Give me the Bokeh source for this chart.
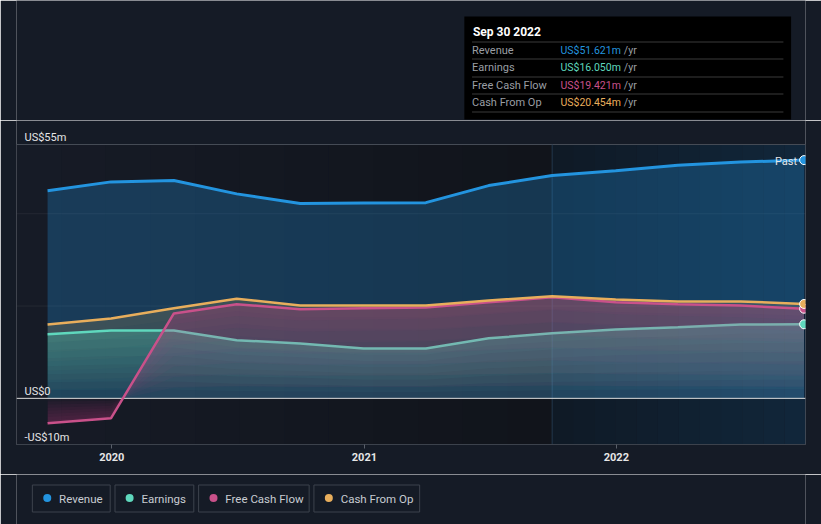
import pandas as pd
import numpy as np
from bokeh.plotting import figure
from bokeh.models import Range1d, FixedTicker, DatetimeTickFormatter
from bokeh.layouts import column
from bokeh.embed import file_html
from bokeh.resources import INLINE
from bokeh.core.properties import value

# ---------------- data ----------------
dates = ["2019-09-30", "2019-12-31", "2020-03-31", "2020-06-30", "2020-09-30",
         "2020-12-31", "2021-03-31", "2021-06-30", "2021-09-30", "2021-12-31",
         "2022-03-31", "2022-06-30", "2022-09-30"]
revenue = [45.0, 46.9, 47.2, 44.3, 42.2, 42.3, 42.4, 46.1, 48.3, 49.3, 50.5, 51.2, 51.621]
earnings = [13.9, 14.7, 14.7, 12.6, 11.9, 10.8, 10.8, 13.0, 14.1, 14.9, 15.4, 16.0, 16.050]
free_cash_flow = [-5.4, -4.3, 18.4, 20.4, 19.3, 19.5, 19.7, 20.8, 21.9, 20.8, 20.4, 20.1, 19.421]
cash_from_op = [16.0, 17.3, 19.5, 21.6, 20.1, 20.1, 20.1, 21.2, 22.1, 21.4, 21.0, 21.0, 20.454]

series_names = ["Revenue", "Earnings", "Free Cash Flow", "Cash From Op"]
series_colors = ["#2394df", "#5fd8bd", "#c9518a", "#e8ae5c"]
year_ticks = ["2020-01-01", "2021-01-01", "2022-01-01"]
y_tick_values = [-10, 0, 55]
y_tick_labels = ["-US$10m", "US$0", "US$55m"]
grid_values = [20, 40]
past_start = "2021-09-30"
tooltip_title = "Sep 30 2022"

# ---------------- style ----------------
BG = "#151b26"
FONT = "Roboto"
TXT = "#e6e6e6"
W = 821

x = pd.to_datetime(dates)
x_start = pd.Timestamp("2019-08-16")
x_end = pd.Timestamp("2022-10-02")
past_ts = pd.Timestamp(past_start)
y_min, y_top_line, y_max = -10, 55, 60.2

series = [revenue, earnings, free_cash_flow, cash_from_op]
REV, EARN, FCF, CFO = range(4)


def styled(fig):
    fig.background_fill_color = BG
    fig.border_fill_color = BG
    fig.outline_line_color = None
    fig.grid.visible = False
    fig.styles = {"overflow": "hidden"}
    return fig


# ---------------- main chart ----------------
p = styled(figure(width=W, height=354, x_axis_type="datetime",
                  x_range=Range1d(x_start, x_end), y_range=Range1d(y_min, y_max),
                  output_backend="svg", toolbar_location=None, y_axis_location=None,
                  min_border_left=16, min_border_right=16, min_border_top=0,
                  min_border_bottom=30))


def hex_mix(c1, c2, t):
    a = [int(c1[i:i + 2], 16) for i in (1, 3, 5)]
    b = [int(c2[i:i + 2], 16) for i in (1, 3, 5)]
    return "#%02x%02x%02x" % tuple(int(round(a[k] + (b[k] - a[k]) * t)) for k in range(3))


# background gradient (left part darkens to the right, past part bluish)
n_steps = 12
edges = pd.date_range(x_start, past_ts, periods=n_steps + 1)
p.quad(left=edges[:-1], right=edges[1:], bottom=y_min, top=y_top_line,
       fill_color=[hex_mix("#161b26", "#11141b", i / (n_steps - 1)) for i in range(n_steps)],
       line_color=None)
edges2 = pd.date_range(past_ts, x_end, periods=n_steps + 1)
p.quad(left=edges2[:-1], right=edges2[1:], bottom=y_min, top=y_top_line,
       fill_color=[hex_mix("#0f1a26", "#11263a", i / (n_steps - 1)) for i in range(n_steps)],
       line_color=None)

# grid lines
n_g = len(grid_values)
p.segment(x0=[x_start] * n_g, y0=grid_values, x1=[x_end] * n_g, y1=grid_values,
          line_color="#ffffff", line_alpha=0.06, line_width=1)
p.segment(x0=[x_start], y0=[y_top_line], x1=[x_end], y1=[y_top_line],
          line_color="#454b55", line_width=1)
p.segment(x0=[past_ts], y0=[y_min], x1=[past_ts], y1=[y_top_line],
          line_color="#22384d", line_width=1)


def gradient_fill(k, alpha_top, n):
    v = np.array(series[k], dtype=float)
    for i in range(n):
        p.varea(x=x, y1=v * i / n, y2=v, fill_color=series_colors[k], fill_alpha=alpha_top / n)


widths = [3, 2.5, 2.5, 2.5]


def draw_line(k):
    p.line(x=x, y=series[k], line_color=series_colors[k], line_width=widths[k])


gradient_fill(REV, 0.28, 1)
gradient_fill(CFO, 0.22, 8)
gradient_fill(EARN, 0.38, 8)
draw_line(EARN)
gradient_fill(FCF, 0.35, 8)

# zero line
p.segment(x0=[x_start], y0=[0], x1=[x_end], y1=[0], line_color="#dcdcdc", line_width=1)

draw_line(FCF)
draw_line(CFO)
draw_line(REV)

# end dots
p.scatter(x=[x[-1]] * 4, y=[s[-1] for s in series], size=9, fill_color=series_colors,
          line_color="#ffffff", line_width=1)

# y labels (inside plot)
p.text(x=[x_start] * len(y_tick_values), y=y_tick_values, text=y_tick_labels,
       x_offset=8, y_offset=-7, text_baseline="alphabetic", text_align="left",
       text_color=TXT, text_font=value(FONT), text_font_size="11px")

# "Past" label
p.text(x=[x[-1]], y=[revenue[-1]], text=["Past"], x_offset=-7, y_offset=1,
       text_align="right", text_baseline="alphabetic", text_color=TXT,
       text_font=value(FONT), text_font_size="11px")

# x axis
year_ms = [pd.Timestamp(t).value // 10**6 for t in year_ticks]
p.xaxis.ticker = FixedTicker(ticks=year_ms)
p.xaxis.formatter = DatetimeTickFormatter(years="%Y", months="%Y", days="%Y", hours="%Y",
                                          hourmin="%Y", minutes="%Y", minsec="%Y", seconds="%Y")
p.xaxis.axis_line_color = "#3c424c"
p.xaxis.major_tick_line_color = "#5a606a"
p.xaxis.major_tick_in = 0
p.xaxis.major_tick_out = 4
p.xaxis.minor_tick_line_color = None
p.xaxis.major_label_text_color = TXT
p.xaxis.major_label_text_font = FONT
p.xaxis.major_label_text_font_size = "11px"
p.xaxis.major_label_text_font_style = "bold"
p.xaxis.major_label_standoff = 4

# ---------------- tooltip box (top) ----------------
t = styled(figure(width=W, height=120, x_range=Range1d(0, W), y_range=Range1d(120, 0),
                  output_backend="svg", toolbar_location=None, x_axis_location=None,
                  y_axis_location=None, min_border=0))

t.quad(left=[466], right=[806], top=[16], bottom=[119], fill_color="#000000", line_color=None)
t.text(x=[475], y=[31], text=[tooltip_title], text_baseline="middle", text_color="#ffffff",
       text_font=value(FONT), text_font_size="12px", text_font_style="bold")
sep_y = [41.5, 58.5, 76.5, 93.5, 111.5]
t.segment(x0=[474] * 5, y0=sep_y, x1=[798] * 5, y1=sep_y, line_color="#3a3a3a", line_width=1)
row_y = [49.5, 67, 84.5, 102]
t.text(x=[474] * 4, y=row_y, text=series_names, text_baseline="middle", text_color="#9a9ea4",
       text_font=value(FONT), text_font_size="11px")
t.text(x=[566] * 4, y=row_y, text=["US$%.3fm" % s[-1] for s in series], text_baseline="middle",
       text_color=series_colors, text_font=value(FONT), text_font_size="10.5px")
t.text(x=[632] * 4, y=row_y, text=["/yr"] * 4, text_baseline="middle", text_color="#9a9ea4",
       text_font=value(FONT), text_font_size="10.5px")

# ---------------- legend (bottom) ----------------
lg = styled(figure(width=W, height=50, x_range=Range1d(0, W), y_range=Range1d(50, 0),
                   output_backend="svg", toolbar_location=None, x_axis_location=None,
                   y_axis_location=None, min_border=0))

box_left = [16.5, 102.5, 189.5, 309.5]
box_right = [97.5, 184.5, 304.5, 419.5]
dot_x = [32, 117.7, 205, 325]
label_x = [44.3, 130, 217.3, 337.3]
lg.quad(left=box_left, right=box_right, top=10.5, bottom=37.5, fill_color=None,
        line_color="#3d434d", line_width=1)
lg.scatter(x=dot_x, y=[23.5] * 4, size=8, fill_color=series_colors, line_color=None)
lg.text(x=label_x, y=[24] * 4, text=series_names, text_baseline="middle", text_color="#c8ccd2",
        text_font=value(FONT), text_font_size="11.5px")

layout = column(t, p, lg)
layout.styles = {"overflow": "hidden"}

open("out.html", "w").write(file_html(layout, INLINE))
